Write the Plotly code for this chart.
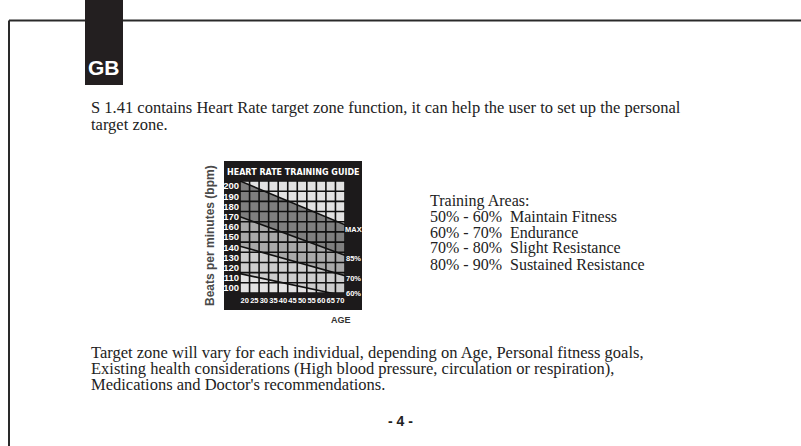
import plotly.graph_objects as go

W, H = 801, 446

# ---- data ----
ages = [20, 25, 30, 35, 40, 45, 50, 55, 60, 65, 70]
bpm_ticks = [100, 110, 120, 130, 140, 150, 160, 170, 180, 190, 200]
x_range = [17.5, 72.5]
y_range = [95, 205]
line_ages = [17.5, 72.5]
max_line = [205, 162]
line_85 = [170, 132]
line_70 = [141, 112]
line_60 = [114, 92]
zone_labels = ["MAX", "85%", "70%", "60%"]
zone_label_px_y = [229, 258, 278, 293]

para1 = ["S 1.41 contains Heart Rate target zone function, it can help the user to set up the personal",
         "target zone."]
areas = ["Training Areas:",
         "50% - 60%  Maintain Fitness",
         "60% - 70%  Endurance",
         "70% - 80%  Slight Resistance",
         "80% - 90%  Sustained Resistance"]
para2 = ["Target zone will vary for each individual, depending on Age, Personal fitness goals,",
         "Existing health considerations (High blood pressure, circulation or respiration),",
         "Medications and Doctor's recommendations."]


def px(x):
    return x / W


def py(y):
    return 1 - y / H


fig = go.Figure()

# zone fills (top to bottom)
fig.add_trace(go.Scatter(x=line_ages, y=[y_range[1]] * 2, fill="tozeroy", mode="lines",
                         line=dict(width=0), fillcolor="#e2e2e2", hoverinfo="skip"))
fills = [(max_line, "#7f7f7f"), (line_85, "#a9a9a9"), (line_70, "#cdcdcd"), (line_60, "#e2e2e2")]
for yv, col in fills:
    fig.add_trace(go.Scatter(x=line_ages, y=yv, fill="tozeroy", mode="lines",
                             line=dict(width=0), fillcolor=col, hoverinfo="skip"))

# grid (cell edges around the tick centres)
gx, gy = [], []
x_edges = [a - 2.5 for a in ages] + [ages[-1] + 2.5]
y_edges = [b - 5 for b in bpm_ticks] + [bpm_ticks[-1] + 5]
for xe in x_edges:
    gx += [xe, xe, None]
    gy += [y_range[0], y_range[1], None]
for ye in y_edges:
    gx += [x_range[0], x_range[1], None]
    gy += [ye, ye, None]
fig.add_trace(go.Scatter(x=gx, y=gy, mode="lines", line=dict(color="#111111", width=1.6),
                         hoverinfo="skip"))

# zone boundary lines
for yv in [max_line, line_85, line_70, line_60]:
    fig.add_trace(go.Scatter(x=line_ages, y=yv, mode="lines",
                             line=dict(color="#111111", width=1.6), hoverinfo="skip"))

shapes = [
    # page frame
    dict(type="line", xref="paper", yref="paper", x0=px(9), x1=px(801), y0=py(20.5), y1=py(20.5),
         line=dict(color="#2a2a2a", width=2)),
    dict(type="line", xref="paper", yref="paper", x0=px(9), x1=px(9), y0=py(20.5), y1=py(446),
         line=dict(color="#2a2a2a", width=2)),
    # GB tab
    dict(type="rect", xref="paper", yref="paper", x0=px(85), x1=px(123), y0=py(0), y1=py(85),
         fillcolor="#231f20", line=dict(width=0)),
    # chart black box
    dict(type="rect", xref="paper", yref="paper", x0=px(224), x1=px(362), y0=py(161), y1=py(310),
         fillcolor="#1c1a1b", line=dict(width=0), layer="below"),
]

ann = []


def add(text, x, y, font, xanchor="center", angle=0):
    ann.append(dict(text=text, x=px(x), y=py(y), xref="paper", yref="paper", showarrow=False,
                    xanchor=xanchor, yanchor="middle", textangle=angle, font=font))


add("<b>GB</b>", 104, 67, dict(family="Liberation Sans, Arial", size=21, color="white"))
add("<b>HEART RATE TRAINING GUIDE</b>", 293, 172, dict(family="DejaVu Sans", size=8, color="white"))
for lab, yy in zip(zone_labels, zone_label_px_y):
    add("<b>" + lab + "</b>", 353, yy, dict(family="Liberation Sans, Arial", size=7.5, color="white"))
add("<b>Beats per minutes (bpm)</b>", 210, 235,
    dict(family="Liberation Sans, Arial", size=12, color="#4a4a4a"), angle=-90)
add("<b>AGE</b>", 341, 320, dict(family="Liberation Sans, Arial", size=9, color="#333333"))

serif = "Liberation Serif, Times New Roman"
for i, t in enumerate(para1):
    add(t, 89, 107 + 17 * i, dict(family=serif, size=16.5, color="#222222"), xanchor="left")
for i, t in enumerate(areas):
    add(t.replace("  ", "&nbsp; "), 428, 201 + 15.8 * i, dict(family=serif, size=16, color="#222222"),
        xanchor="left")
for i, t in enumerate(para2):
    add(t, 89, 352 + 16 * i, dict(family=serif, size=16.5, color="#222222"), xanchor="left")
add("<b>- 4 -</b>", 400, 421, dict(family="Liberation Sans, Arial", size=14, color="#222222"))

xtickfont = dict(family="Liberation Sans, Arial", size=7.5, color="white", weight="bold")
ytickfont = dict(family="Liberation Sans, Arial", size=9.5, color="white", weight="bold")

fig.update_layout(
    width=W, height=H, autosize=False,
    margin=dict(l=0, r=0, t=0, b=0),
    paper_bgcolor="white", plot_bgcolor="rgba(0,0,0,0)",
    showlegend=False,
    shapes=shapes, annotations=ann,
    xaxis=dict(domain=[px(240), px(345)], range=x_range, tickvals=ages,
               ticktext=[str(a) for a in ages], showgrid=False, zeroline=False, showline=False,
               ticks="", tickfont=xtickfont, tickangle=0, fixedrange=True, ticklabelstandoff=1),
    yaxis=dict(domain=[py(293), py(181)], range=y_range, tickvals=bpm_ticks,
               ticktext=[str(b) for b in bpm_ticks], showgrid=False, zeroline=False, showline=False,
               ticks="", tickfont=ytickfont, fixedrange=True, ticklabelstandoff=0),
)

fig.write_html("out.html", config={"displayModeBar": False},
               post_script="document.body.style.margin='0';")
